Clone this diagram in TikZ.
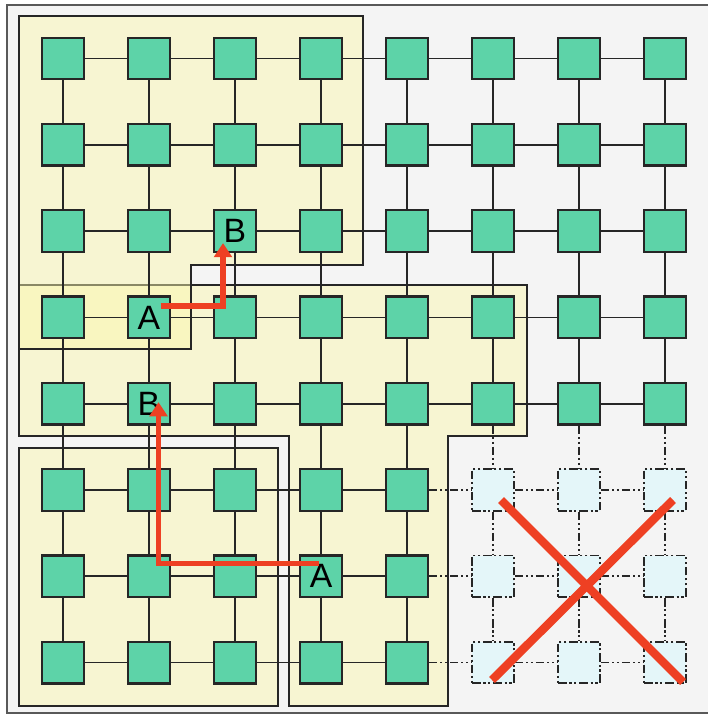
\documentclass[tikz,border=0pt]{standalone}
\usepackage{fontspec}
\setmainfont{Liberation Sans}
\usetikzlibrary{calc, positioning}
\usetikzlibrary{arrows.meta}

\definecolor{pegreen}{HTML}{5DD3A8}
\definecolor{peblue}{HTML}{E4F6F9}
\definecolor{zoneyel}{HTML}{FCF8AC}
\definecolor{bggray}{HTML}{F4F4F4}
\definecolor{pathred}{HTML}{EE4023}

\tikzset{
  pe/.style={draw=black!85, line width=1.6pt, fill=pegreen, minimum size=1.04cm, inner sep=0pt},
  deadpe/.style={pe, fill=peblue, line width=1.4pt, dash pattern=on 6pt off 2pt on 1.5pt off 2pt on 1.5pt off 2pt},
  link/.style={draw=black!85, line width=1.2pt},
  deadlink/.style={link, dash pattern=on 6pt off 2pt on 1.5pt off 2pt on 1.5pt off 2pt},
  zone/.style={draw=black!85, line width=1.1pt, fill=zoneyel, fill opacity=0.47},
  pelabel/.style={font=\fontsize{24}{24}\selectfont, inner sep=0pt},
  redpath/.style={draw=pathred, line width=3.8pt, -{Triangle[length=10pt,width=12.5pt]}},
  failmark/.style={draw=pathred, line width=6pt}
}

\begin{document}
\begin{tikzpicture}[x=0.025cm, y=-0.025cm]
\def\dx{86}
\def\dy{86.3}
\useasboundingbox (0,0) rectangle (708,715);
% chip frame
\fill[white] (0,0) rectangle (708,715);
\draw[fill=bggray, draw=black!65, line width=1.2pt] (7,5) rectangle (714,713);

% partitions
\draw[zone] (19,285) -- (527,285) -- (527,436) -- (448,436) -- (448,706)
  -- (289,706) -- (289,436) -- (19,436) -- cycle;
\draw[zone] (19,448) rectangle (278,706);
\draw[zone] (19,16) -- (363,16) -- (363,265) -- (191,265) -- (191,349)
  -- (19,349) -- cycle;

% processing elements
\foreach \c in {0,...,7}
  \foreach \r in {0,...,4}
    \node[pe] (p-\c-\r) at ({63+\dx*\c},{58.5+\dy*\r}) {};
\foreach \c in {0,...,4}
  \foreach \r in {5,6,7}
    \node[pe] (p-\c-\r) at ({63+\dx*\c},{58.5+\dy*\r}) {};
\foreach \c in {5,6,7}
  \foreach \r in {5,6,7}
    \node[deadpe] (p-\c-\r) at ({63+\dx*\c},{58.5+\dy*\r}) {};

% links
\foreach \c [count=\d from 1] in {0,...,6}
  \foreach \r in {0,...,4}
    \draw[link] (p-\c-\r) -- (p-\d-\r);
\foreach \c [count=\d from 1] in {0,...,3}
  \foreach \r in {5,6,7}
    \draw[link] (p-\c-\r) -- (p-\d-\r);
\foreach \c [count=\d from 5] in {4,5,6}
  \foreach \r in {5,6,7}
    \draw[deadlink] (p-\c-\r) -- (p-\d-\r);
\foreach \r [count=\s from 1] in {0,...,6}
  \foreach \c in {0,...,4}
    \draw[link] (p-\c-\r) -- (p-\c-\s);
\foreach \r [count=\s from 1] in {0,...,3}
  \foreach \c in {5,6,7}
    \draw[link] (p-\c-\r) -- (p-\c-\s);
\foreach \r [count=\s from 5] in {4,5,6}
  \foreach \c in {5,6,7}
    \draw[deadlink] (p-\c-\r) -- (p-\c-\s);

% source and target labels
\node[pelabel] (srcA) at (p-1-3) {A};
\node[pelabel] (dstB) at (p-2-2) {B};
\node[pelabel] (dstB2) at (p-1-4) {B};
\node[pelabel] (srcA2) at (p-3-6) {A};

% routes
\draw[redpath] ($(srcA.center)+(11.5,-11.5)$) -| ($(dstB.center)+(-12,12)$);
\draw[redpath] ($(srcA2.center)+(-2,-13)$) -| ($(dstB2.center)+(9.5,-1.5)$);

% failed block
\draw[failmark] (501,500) -- (683,682);
\draw[failmark] (673,500) -- (492,680);
\end{tikzpicture}
\end{document}
